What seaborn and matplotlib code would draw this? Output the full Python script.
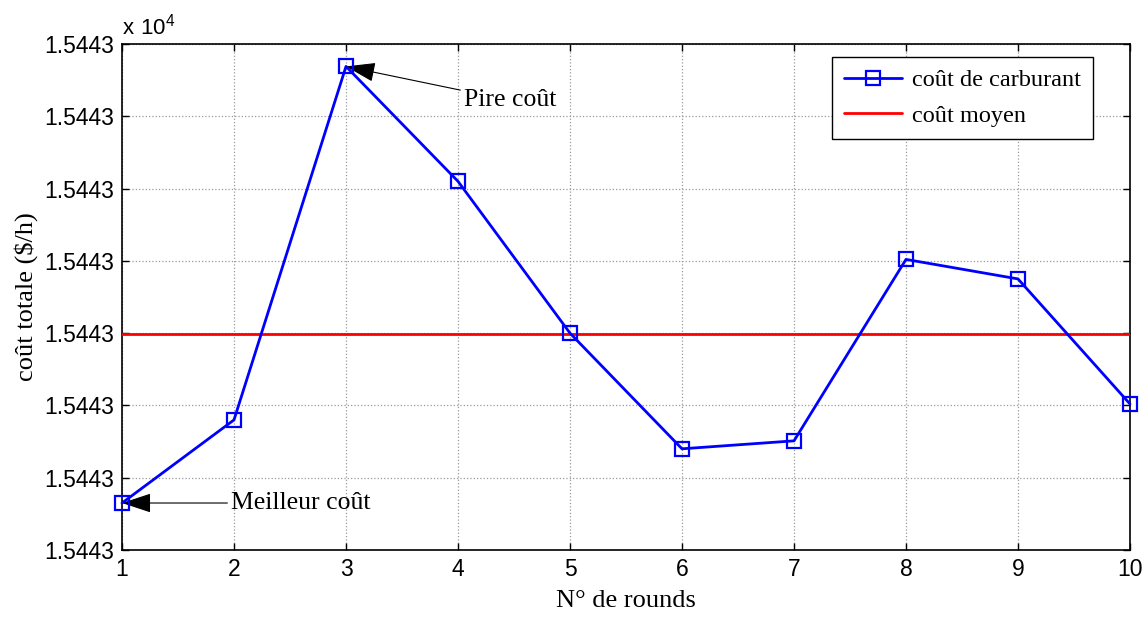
import numpy as np
import pandas as pd
import matplotlib
matplotlib.use("Agg")
import matplotlib.pyplot as plt
import seaborn as sns
from matplotlib.ticker import FuncFormatter
from matplotlib.lines import Line2D

rounds = [1, 2, 3, 4, 5, 6, 7, 8, 9, 10]
cost = [15443.2130, 15443.2360, 15443.3338, 15443.3020, 15443.2600,
        15443.2280, 15443.2302, 15443.2804, 15443.2750, 15443.2404]
ytick_vals = [15443.20, 15443.22, 15443.24, 15443.26, 15443.28, 15443.30, 15443.32, 15443.34]

sns.set_theme(style="ticks")
plt.rcParams['font.family'] = ['Liberation Sans', 'DejaVu Sans']
plt.rcParams['text.color'] = 'black'
plt.rcParams['axes.labelcolor'] = 'black'

fig = plt.figure(figsize=(11.47, 6.18), dpi=100)
ax = fig.add_axes([122/1147, 1-550/618, (1130-122)/1147, (550-44)/618])

df = pd.DataFrame({"round": rounds, "cost": cost})
sns.lineplot(data=df, x="round", y="cost", ax=ax, color="blue", lw=2,
             marker="s", markersize=9.5, markerfacecolor="none",
             markeredgecolor="blue", markeredgewidth=1.6, clip_on=False, zorder=5)
mean_cost = float(np.mean(cost))
ax.axhline(mean_cost, color="red", lw=2, zorder=4)

ax.set_xlim(1, 10)
ax.set_ylim(ytick_vals[0], ytick_vals[-1])
ax.set_xticks(rounds)
ax.set_yticks(ytick_vals)
ax.yaxis.set_major_formatter(FuncFormatter(lambda v, p: f"{v/1e4:.4f}"))
ax.tick_params(direction="in", top=True, right=True, length=5, width=1,
               labelsize=16.5, colors="black", labelcolor="black", pad=6)
for s in ax.spines.values():
    s.set_linewidth(1.2)
    s.set_color("black")
ax.grid(True, color="#9a9a9a", linestyle=":", linewidth=0.9)

ax.text(0.0, 1.008, r"$\mathregular{x\ 10^4}$", transform=ax.transAxes,
        fontsize=16, ha="left", va="bottom", color="black")

serif = ['Liberation Serif', 'DejaVu Serif']
ax.set_xlabel("N° de rounds", family=serif, fontsize=19, labelpad=6, color="black")
ax.set_ylabel("coût totale ($/h)", family=serif, fontsize=19, labelpad=4, color="black")

arrow = dict(arrowstyle="-|>,head_length=1.0,head_width=0.33",
             color="black", lw=0.8, shrinkA=0, shrinkB=0)
ax.annotate("Pire coût", xy=(3, cost[2]), xytext=(4.05, 15443.3244),
            family=serif, fontsize=18.5, va="center", ha="left", color="black",
            arrowprops=arrow)
ax.annotate("Meilleur coût", xy=(1, cost[0]), xytext=(1.97, cost[0]),
            family=serif, fontsize=18.5, va="center", ha="left", color="black",
            arrowprops=arrow)

handles = [Line2D([], [], color="blue", lw=2, marker="s", markersize=9.5,
                  markerfacecolor="none", markeredgecolor="blue", markeredgewidth=1.6),
           Line2D([], [], color="red", lw=2)]
leg = ax.legend(handles, ["coût de carburant", "coût moyen"],
                loc="upper right", bbox_to_anchor=(0.9633, 0.974), borderaxespad=0,
                prop={"family": serif, "size": 17.5}, frameon=True, fancybox=False,
                edgecolor="black", framealpha=1, handlelength=2.4, borderpad=0.5,
                handletextpad=0.4, labelspacing=0.55, labelcolor="black")
leg.get_frame().set_linewidth(1.0)

fig.savefig("out.png", dpi=100, facecolor="white")
